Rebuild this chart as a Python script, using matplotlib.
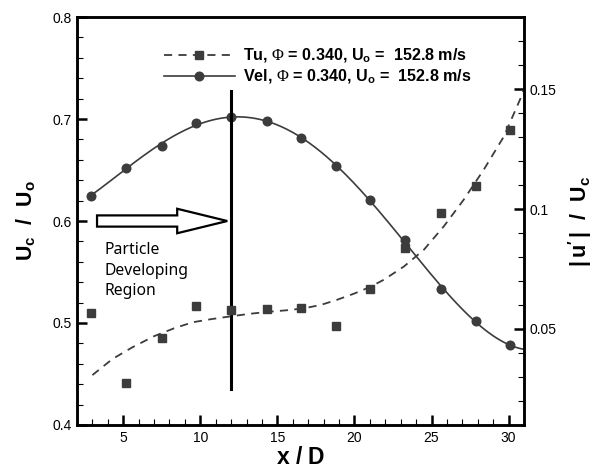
import numpy as np
import matplotlib
matplotlib.use("Agg")
import matplotlib.pyplot as plt
from matplotlib.patches import FancyArrow
from matplotlib.ticker import MultipleLocator

plt.rcParams['font.family'] = ['Liberation Sans', 'DejaVu Sans']
plt.rcParams['mathtext.fontset'] = 'custom'
plt.rcParams['mathtext.rm'] = 'Liberation Serif'
plt.rcParams['mathtext.bf'] = 'Liberation Sans:bold'
plt.rcParams['mathtext.it'] = 'Liberation Sans:italic'

# x / D stations
xd = [2.9, 5.2, 7.5, 9.7, 12.0, 14.3, 16.5, 18.8, 21.0, 23.3, 25.6, 27.9, 30.1]
# centreline velocity Uc/Uo
vel = [0.625, 0.652, 0.674, 0.696, 0.702, 0.698, 0.681, 0.654, 0.621, 0.581, 0.533, 0.502, 0.478]
# turbulence intensity |u'|/Uc
tu = [0.0565, 0.0276, 0.0463, 0.0595, 0.058, 0.0583, 0.0586, 0.0513, 0.0667, 0.0836, 0.0983, 0.1097, 0.133]

# Tu curve fit
tu_fit_x = [3.0, 4.3, 5.6, 7.0, 8.3, 9.5, 10.7, 12.0, 13.3, 14.5, 15.6, 16.7, 17.8,
            18.8, 20.0, 21.0, 21.9, 23.2, 24.5, 25.8, 27.1, 28.4, 29.7, 30.8, 31.0]
tu_fit_y = [0.0308, 0.0375, 0.0424, 0.0470, 0.0503, 0.0528, 0.0541, 0.0553, 0.0564,
            0.0572, 0.0578, 0.0586, 0.0600, 0.0620, 0.0648, 0.0675, 0.0705, 0.0760,
            0.0830, 0.0928, 0.1040, 0.1165, 0.1303, 0.1465, 0.1500]

region_x = 12.0
region_y = [0.435, 0.727]
arrow_x = [3.3, 11.75]
arrow_y = 0.6

# velocity curve fit through the markers
xf = np.linspace(2.9, 31, 300)
vel_fit = np.polyval(np.polyfit(xd, vel, 5), xf)

fig = plt.figure(figsize=(5.95, 4.73), dpi=100)
ax = fig.add_axes([0.1294, 0.1015, 0.7513, 0.8625])
ax2 = ax.twinx()

col = '#3c3c3c'
lv, = ax.plot(xf, vel_fit, color=col, lw=1.2)
mv, = ax.plot(xd, vel, 'o', color=col, ms=6.2)
lt, = ax2.plot(tu_fit_x, tu_fit_y, color=col, lw=1.3, ls=(0, (4.5, 3.5)))
mt, = ax2.plot(xd, tu, 's', color=col, ms=5.2)

ax.plot([region_x, region_x], region_y, color='k', lw=2.2)
ax.add_patch(FancyArrow(arrow_x[0], arrow_y, arrow_x[1] - arrow_x[0], 0,
                        width=0.011, head_width=0.024, head_length=3.25,
                        length_includes_head=True, facecolor='white',
                        edgecolor='black', lw=1.6))
ax.text(3.8, 0.579, 'Particle\nDeveloping\nRegion', family='Noto Sans',
        fontsize=11.3, va='top', ha='left', linespacing=1.35)

ax.set_xlim(2, 31)
ax.set_ylim(0.4, 0.8)
ax2.set_ylim(0.01, 0.18)

ax.xaxis.set_major_locator(MultipleLocator(5))
ax.xaxis.set_minor_locator(MultipleLocator(1))
ax.yaxis.set_minor_locator(MultipleLocator(0.02))
ax2.yaxis.set_minor_locator(MultipleLocator(0.01))
ax2.set_yticks([0.05, 0.1, 0.15])
ax2.set_yticklabels(['0.05', '0.1', '0.15'])
ax.set_yticks([0.4, 0.5, 0.6, 0.7, 0.8])
ax.set_yticklabels(['0.4', '0.5', '0.6', '0.7', '0.8'])

for a in (ax, ax2):
    a.tick_params(which='major', direction='in', length=7, width=1.8, labelsize=10, pad=4)
    a.tick_params(which='minor', direction='in', length=4.3, width=0.8)
    for s in a.spines.values():
        s.set_linewidth(1.8)
ax.tick_params(axis='y', which='both', right=False)

ax.set_xlabel(r'$\mathbf{x\ /\ D}$', fontsize=16.5, labelpad=1)
ax.set_ylabel(r'$\mathbf{U_c\ \ /\ \ U_o}$', fontsize=15.5, labelpad=10)
ax2.set_ylabel(r"$\mathbf{|\,u'\,|\ \ /\ \ U_c}$", fontsize=15.5, labelpad=7)

ax.legend([(lt, mt), (lv, mv)],
          [r'Tu, $\Phi$ = 0.340, $\mathbf{U_o}$ =  152.8 m/s',
           r'Vel, $\Phi$ = 0.340, $\mathbf{U_o}$ =  152.8 m/s'],
          loc='upper left', bbox_to_anchor=(0.162, 0.962), frameon=False,
          prop={'weight': 'bold', 'size': 11.6}, handlelength=4.4,
          handletextpad=0.5, labelspacing=0.15, numpoints=1)

fig.savefig('out.png', dpi=100)
